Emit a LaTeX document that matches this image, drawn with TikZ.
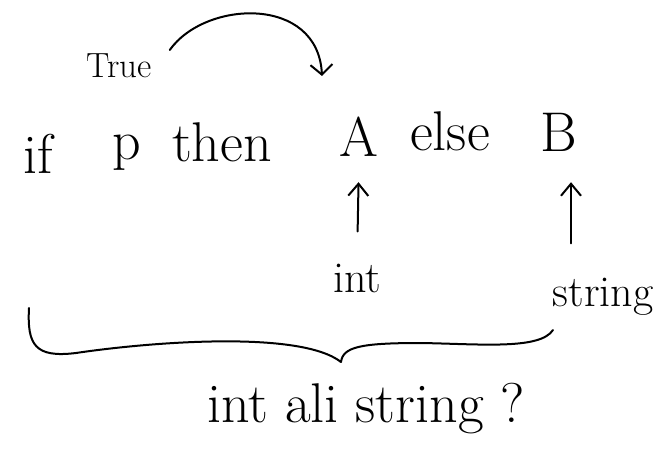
\documentclass[tikz,border=0pt]{standalone}
\usetikzlibrary{arrows.meta}
\begin{document}
\begin{tikzpicture}[x=1pt,y=-1pt,
  txt/.style={inner sep=0pt,anchor=base,text=black},
  bigtxt/.style={txt,font=\fontsize{56}{62}\selectfont},
  midtxt/.style={txt,font=\fontsize{44}{50}\selectfont},
  smalltxt/.style={txt,font=\fontsize{35}{40}\selectfont},
  ink/.style={draw=black,line width=2pt,line cap=round,line join=round},
  arr/.style={ink,-{Straight Barb[length=12pt,width=20pt,line width=2pt]}}]
\useasboundingbox (0,0) rectangle (659,449);
% main line
\node[bigtxt] (if) at (38,174) {if};
\node[bigtxt] (p) at (127,160) {p};
\node[bigtxt] (then) at (222,162) {then};
\node[bigtxt] (A) at (359,157) {A};
\node[bigtxt] (else) at (450,151) {else};
\node[bigtxt] (B) at (559,152) {B};
% labels
\node[smalltxt] (True) at (119,78) {True};
\node[midtxt] (int) at (357,293) {int};
\node[midtxt] (string) at (603,306) {string};
\node[txt,font=\fontsize{56}{62}\selectfont] (res) at (366,422) {int ali string ?};
% curved arrow True -> above A
\coordinate (trueTip) at (322,76);
\draw[arr,-{Straight Barb[length=10pt,width=22pt,line width=2pt]}]
  ([shift={(18,-4)}]True.north east) .. controls (205,0) and (318,-5) .. (trueTip);
% type arrows
\draw[arr,shorten <=33pt,shorten >=25pt] (int.north) -- (A.south);
\draw[arr,shorten <=34pt,shorten >=30pt] ([xshift=12pt]string.north -| B.south) -- ([xshift=12pt]B.south);
% brace
\draw[ink] (29,308) .. controls (27,345) and (35,358) .. (76,353)
  .. controls (150,342) and (300,330) .. (341,362)
  .. controls (343,347) and (360,343) .. (421,343)
  .. controls (480,344) and (540,350) .. (553,330);
\end{tikzpicture}
\end{document}
